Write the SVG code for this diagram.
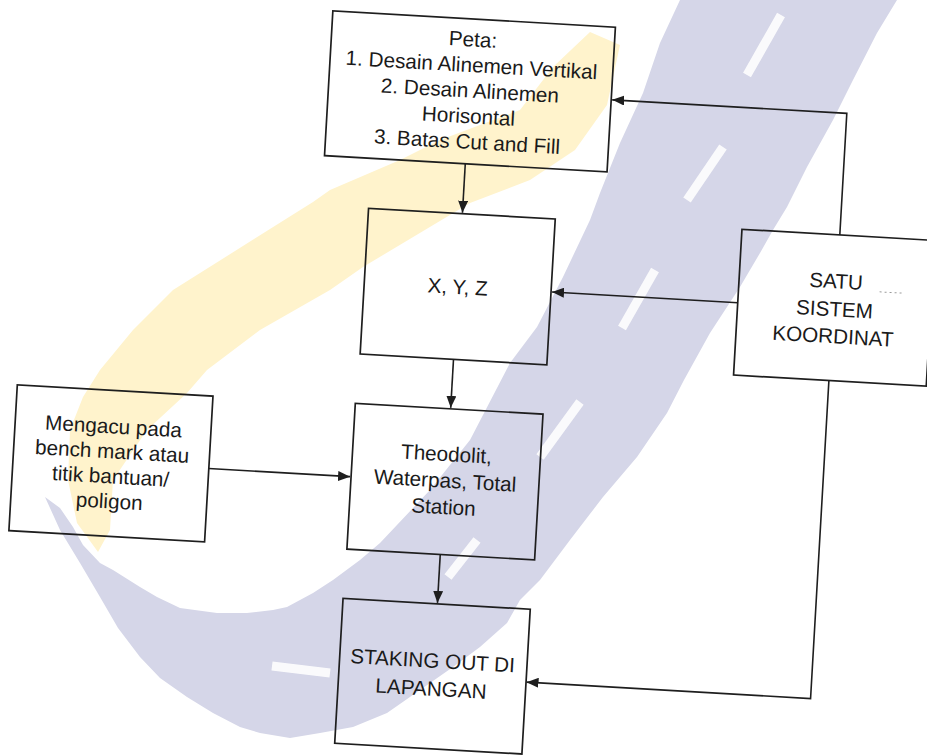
<svg xmlns="http://www.w3.org/2000/svg" width="927" height="755" viewBox="0 0 927 755">
  <defs>
    <marker id="arr" markerUnits="userSpaceOnUse" markerWidth="13" markerHeight="10" refX="12" refY="5" orient="auto">
      <path d="M0,0 L12,5 L0,10 Z" fill="#1e1e1e"/>
    </marker>
    <style>
      .box { fill: none; stroke: #1e1e1e; stroke-width: 1.7; }
      .conn { fill: none; stroke: #1e1e1e; stroke-width: 1.6; marker-end: url(#arr); }
      .lbl { font-family: "Liberation Sans", Arial, sans-serif; font-size: 20.7px; fill: #1a1a1a; text-anchor: middle; }
      .dash { stroke: #ffffff; stroke-width: 9; stroke-linecap: butt; opacity: 0.9; }
    </style>
  </defs>
  <rect x="0" y="0" width="927" height="755" fill="#ffffff"/>

  <!-- watermark -->
  <g id="watermark">
    <path d="M590,32 L553,67 L520,110 L440,140 L400,160 L330,190 L313,202 L173,290 L133,330 L100,370 L83,397 L70,430 L68,480 L77,523 L98,552 L110,530 L113,480 L147,430 L187,393 L207,370 L260,330 L330,290 L363,267 L470,203 L530,180 L575,150 L607,105 L620,45 Z" fill="#fff3cc"/>
    <path d="M680,0 L897,0 L877,33 L853,80 L833,120 L807,167 L787,207 L773,230 L760,253 L740,287 L710,333 L684,380 L667,413 L637,457 L603,497 L570,540 L540,580 L520,600 L507,623 L480,647 L453,667 L420,690 L387,713 L353,727 L320,733 L290,738 L260,733 L240,727 L213,713 L187,697 L160,678 L140,657 L118,628 L100,597 L80,563 L60,530 L45,497 L60,508 L73,527 L83,545 L100,563 L113,570 L140,587 L157,597 L180,608 L217,613 L247,613 L273,610 L287,607 L313,593 L333,580 L360,560 L380,543 L430,490 L470,440 L510,363 L537,327 L563,277 L590,220 L600,193 L620,143 L643,93 L660,43 Z" fill="#d5d6e8"/>
    <line class="dash" x1="781" y1="15" x2="747" y2="75"/>
    <line class="dash" x1="723" y1="147" x2="687" y2="200"/>
    <line class="dash" x1="655" y1="270" x2="622" y2="328"/>
    <line class="dash" x1="580" y1="402" x2="540" y2="457"/>
    <line class="dash" x1="477" y1="540" x2="448" y2="577"/>
    <line class="dash" x1="272" y1="666" x2="330" y2="673"/>
  </g>

  <g transform="rotate(3.3 463 377)">
    <g id="connectors">
      <path class="conn" d="M453,164 V213"/>
      <path class="conn" d="M452.5,360 V408.5"/>
      <path class="conn" d="M450.5,555.6 V604"/>
      <path class="conn" d="M214.5,483 H356"/>
      <path class="conn" d="M733,287 H547"/>
      <path class="conn" d="M831,213.5 V91.7 H596"/>
      <path class="conn" d="M828.5,359.5 V678 H544"/>
    </g>

    <g id="peta">
      <rect class="box" x="312" y="19" width="283" height="145"/>
      <text class="lbl" x="453.5" y="46.5">Peta:</text>
      <text class="lbl" x="453.5" y="72.1">1. Desain Alinemen Vertikal</text>
      <text class="lbl" x="453.5" y="97.7">2. Desain Alinemen</text>
      <text class="lbl" x="453.5" y="123.3">Horisontal</text>
      <text class="lbl" x="453.5" y="148.9">3. Batas Cut and Fill</text>
    </g>

    <g id="xyz">
      <rect class="box" x="359" y="214" width="187" height="146"/>
      <text class="lbl" x="452.5" y="294.5">X, Y, Z</text>
    </g>

    <g id="theodolit">
      <rect class="box" x="357" y="409.5" width="188" height="146"/>
      <text class="lbl" x="451" y="462">Theodolit,</text>
      <text class="lbl" x="451" y="488.5">Waterpas, Total</text>
      <text class="lbl" x="451" y="515">Station</text>
    </g>

    <g id="staking">
      <rect class="box" x="356" y="605" width="187.5" height="145"/>
      <text class="lbl" x="449" y="669">STAKING OUT DI</text>
      <text class="lbl" x="449" y="697">LAPANGAN</text>
    </g>

    <g id="mengacu">
      <rect class="box" x="18.5" y="410.5" width="196" height="146"/>
      <text class="lbl" x="117" y="453.5">Mengacu pada</text>
      <text class="lbl" x="117" y="478.5">bench mark atau</text>
      <text class="lbl" x="117" y="503.5">titik bantuan/</text>
      <text class="lbl" x="117" y="528.5">poligon</text>
    </g>

    <g id="satu">
      <rect class="box" x="733" y="213.5" width="193" height="146"/>
      <text class="lbl" x="830" y="267">SATU</text>
      <text class="lbl" x="830" y="295">SISTEM</text>
      <text class="lbl" x="830" y="322">KOORDINAT</text>
      <line x1="874" y1="268" x2="898" y2="268" stroke="#9a9a9a" stroke-width="1" stroke-dasharray="2 3"/>
    </g>
  </g>
</svg>
